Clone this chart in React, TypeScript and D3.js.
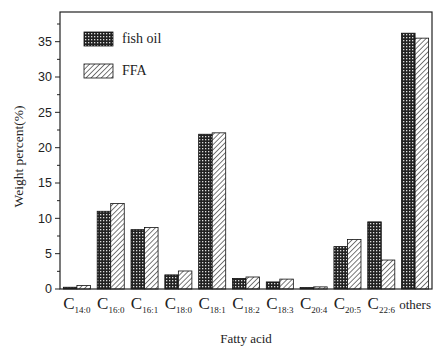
import * as d3 from "d3";

const WIDTH = 434;
const HEIGHT = 347;
const MARGIN = { top: 12, right: 2, bottom: 58, left: 60 };

const categories = ["14:0", "16:0", "16:1", "18:0", "18:1", "18:2", "18:3", "20:4", "20:5", "22:6", "others"];
const fishOil = [0.25, 11.0, 8.4, 2.0, 21.9, 1.5, 1.0, 0.2, 6.0, 9.5, 36.2];
const ffa = [0.5, 12.1, 8.7, 2.55, 22.1, 1.7, 1.4, 0.3, 7.0, 4.1, 35.5];
const seriesNames = ["fish oil", "FFA"];
const yTicks = [0, 5, 10, 15, 20, 25, 30, 35];

const SERIF = "'Liberation Serif', 'DejaVu Serif', serif";
const SANS = "'Liberation Sans', Arial, sans-serif";

export default function App() {
  const boundsWidth = WIDTH - MARGIN.left - MARGIN.right;
  const boundsHeight = HEIGHT - MARGIN.top - MARGIN.bottom;

  const xScale = d3
    .scaleBand()
    .domain(categories)
    .range([0, boundsWidth])
    .paddingInner(0.2)
    .paddingOuter(0.1);

  const xSub = d3
    .scaleBand()
    .domain(seriesNames)
    .range([0, xScale.bandwidth()]);

  const yScale = d3.scaleLinear().domain([0, 39.2]).range([boundsHeight, 0]);

  const minorTicks = d3.range(2.5, 39, 5);
  const fills = ["url(#checker)", "url(#hatch)"];

  const bars = categories.flatMap((c, i) =>
    [fishOil[i], ffa[i]].map((v, j) => (
      <rect
        key={c + j}
        x={(xScale(c) || 0) + (xSub(seriesNames[j]) || 0)}
        y={yScale(v)}
        width={xSub.bandwidth()}
        height={boundsHeight - yScale(v)}
        fill={fills[j]}
        stroke="#111"
        strokeWidth={0.8}
      />
    ))
  );

  return (
    <svg
      width={WIDTH}
      height={HEIGHT}
      style={{ position: "absolute", left: 0, top: 0, background: "#fff" }}
    >
      <defs>
        <pattern id="checker" width={3} height={3} patternUnits="userSpaceOnUse">
          <rect width={3} height={3} fill="#222" />
          <rect x={1} y={1} width={1.3} height={1.3} fill="#ddd" />
        </pattern>
        <pattern
          id="hatch"
          width={3.6}
          height={3.6}
          patternUnits="userSpaceOnUse"
          patternTransform="rotate(45)"
        >
          <rect width={3.6} height={3.6} fill="#fff" />
          <line x1={0} y1={0} x2={0} y2={3.6} stroke="#222" strokeWidth={1.2} />
        </pattern>
      </defs>
      <g transform={`translate(${MARGIN.left},${MARGIN.top})`}>
        {bars}

        {/* frame */}
        <rect
          x={0}
          y={0}
          width={boundsWidth}
          height={boundsHeight}
          fill="none"
          stroke="#222"
          strokeWidth={1.2}
        />

        {/* y axis ticks */}
        {yTicks.map((t) => (
          <g key={t} transform={`translate(0,${yScale(t)})`}>
            <line x1={-5} x2={0} stroke="#222" />
            <text
              x={-8}
              dy="0.35em"
              textAnchor="end"
              fontSize={12.5}
              fontFamily={SANS}
              fill="#222"
            >
              {t}
            </text>
          </g>
        ))}
        {minorTicks.map((t) => (
          <line key={t} x1={-3} x2={0} y1={yScale(t)} y2={yScale(t)} stroke="#222" />
        ))}

        {/* x category labels */}
        {categories.map((c) => {
          const cx = (xScale(c) || 0) + xScale.bandwidth() / 2;
          if (c === "others") {
            return (
              <text
                key={c}
                x={cx}
                y={boundsHeight + 20}
                textAnchor="middle"
                fontSize={13}
                fontFamily={SERIF}
                fill="#222"
              >
                {c}
              </text>
            );
          }
          return (
            <text
              key={c}
              x={cx}
              y={boundsHeight + 20}
              textAnchor="middle"
              fontFamily={SERIF}
              fill="#222"
            >
              <tspan fontSize={17}>C</tspan>
              <tspan fontSize={9} dy={4}>
                {c}
              </tspan>
            </text>
          );
        })}

        {/* axis titles */}
        <text
          x={boundsWidth / 2}
          y={boundsHeight + 54}
          textAnchor="middle"
          fontSize={13}
          fontFamily={SERIF}
          fill="#222"
        >
          Fatty acid
        </text>
        <text
          transform={`translate(${-37},${boundsHeight / 2 + 6}) rotate(-90)`}
          textAnchor="middle"
          fontSize={13.5}
          fontFamily={SERIF}
          fill="#222"
        >
          Weight percent(%)
        </text>

        {/* legend */}
        {seriesNames.map((s, j) => (
          <g key={s} transform={`translate(24,${20 + j * 32})`}>
            <rect width={29} height={14} fill={fills[j]} stroke="#111" strokeWidth={0.8} />
            <text x={38} y={11} fontSize={14} fontFamily={SERIF} fill="#222">
              {s}
            </text>
          </g>
        ))}
      </g>
    </svg>
  );
}
